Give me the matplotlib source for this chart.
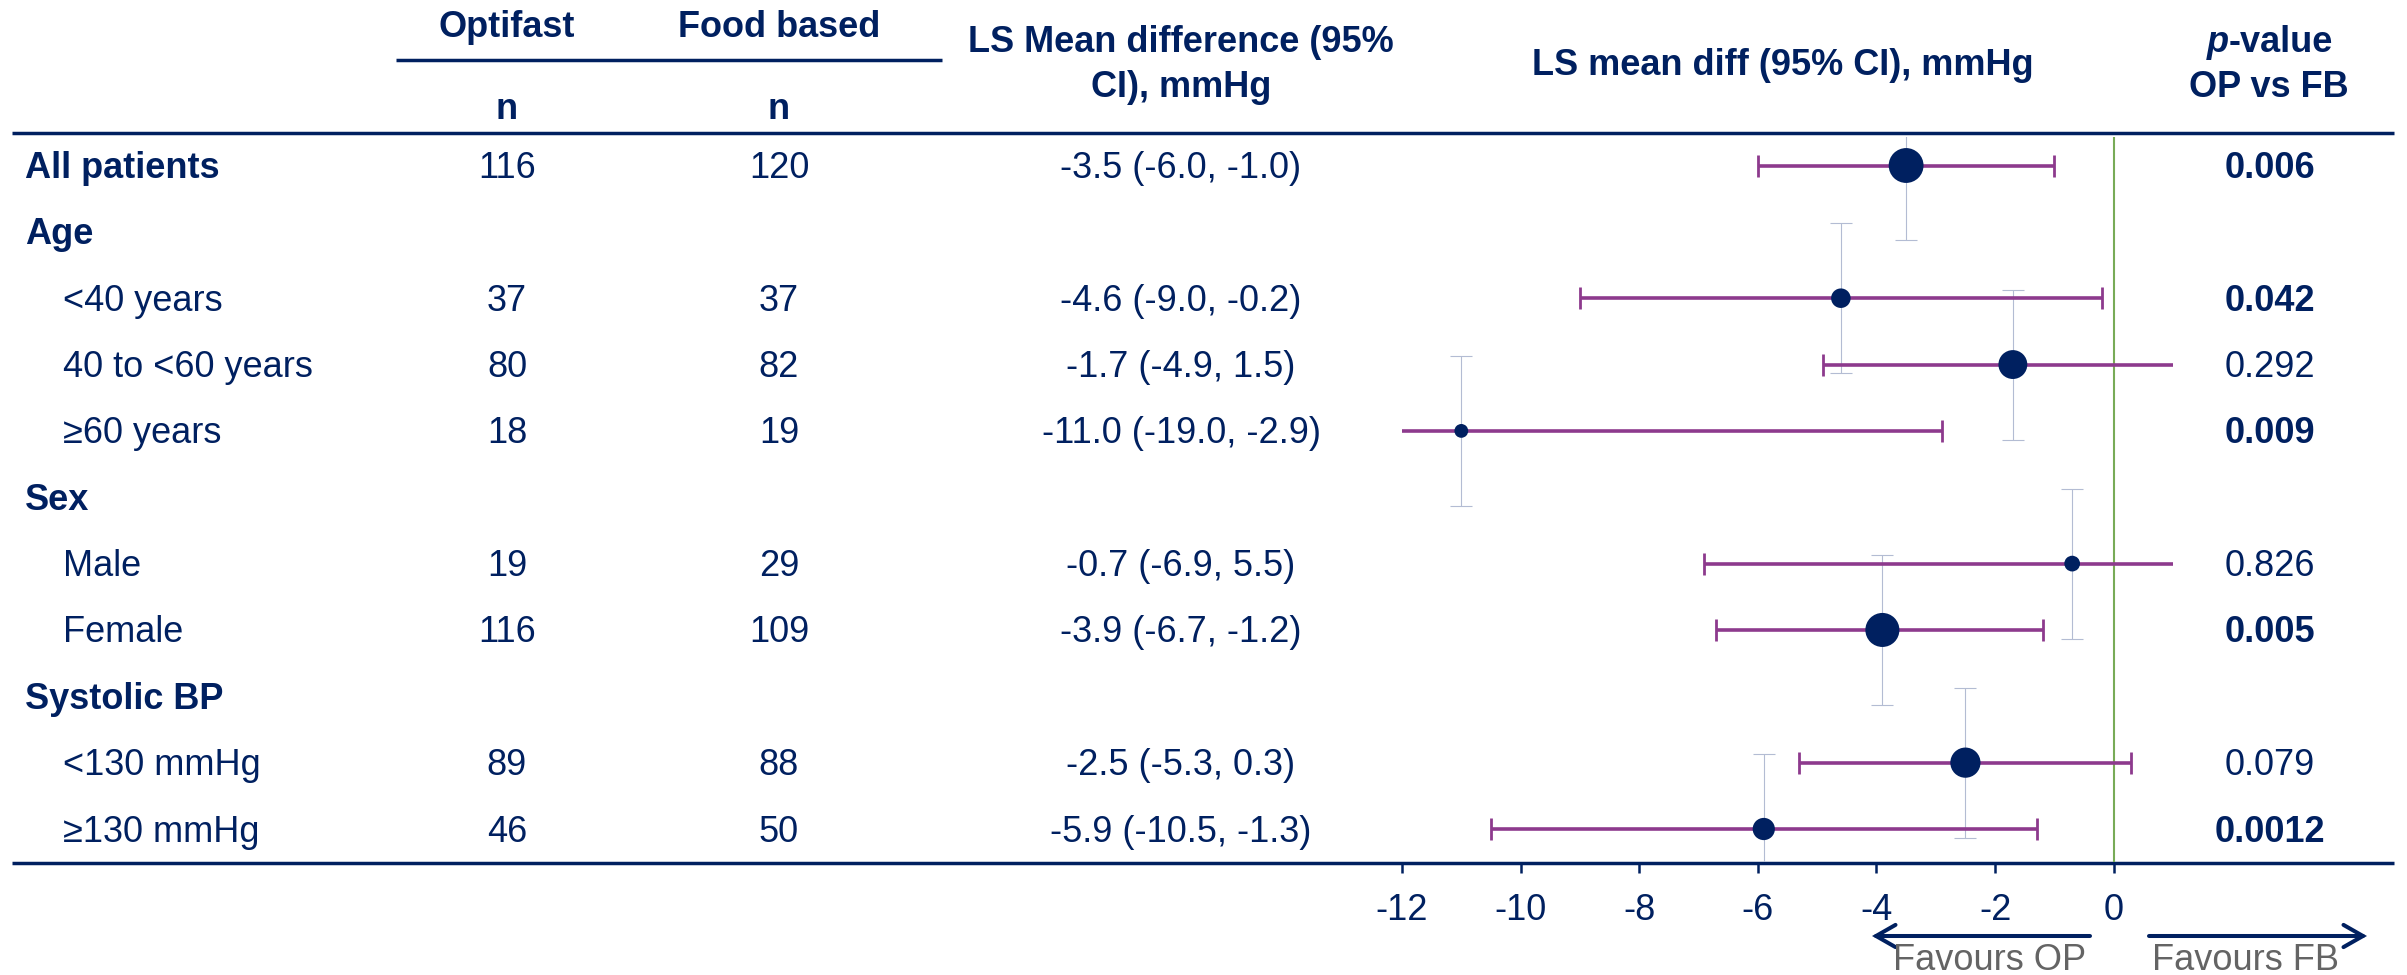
import numpy as np
import matplotlib
matplotlib.use("Agg")
import matplotlib.pyplot as plt
from matplotlib.patches import FancyArrowPatch

# ---- data -------------------------------------------------------------
row_labels = ["All patients", "Age", "<40 years", "40 to <60 years", "≥60 years",
              "Sex", "Male", "Female", "Systolic BP", "<130 mmHg", "≥130 mmHg"]
group_rows = ["All patients", "Age", "Sex", "Systolic BP"]

nan = np.nan
n_optifast = [116, nan, 37, 80, 18, nan, 19, 116, nan, 89, 46]
n_food = [120, nan, 37, 82, 19, nan, 29, 109, nan, 88, 50]
mean_diff = [-3.5, nan, -4.6, -1.7, -11.0, nan, -0.7, -3.9, nan, -2.5, -5.9]
ci_low = [-6.0, nan, -9.0, -4.9, -19.0, nan, -6.9, -6.7, nan, -5.3, -10.5]
ci_high = [-1.0, nan, -0.2, 1.5, -2.9, nan, 5.5, -1.2, nan, 0.3, -1.3]
p_values = ["0.006", "", "0.042", "0.292", "0.009", "", "0.826", "0.005", "",
            "0.079", "0.0012"]

x_ticks = [-12, -10, -8, -6, -4, -2, 0]
x_range = (-12, 1)
row_halo = 1.13          # half-height of the light vertical bars, in rows

# ---- style ------------------------------------------------------------
NAVY = "#002060"
MAGENTA = "#8D3A8D"
LIGHT = "#B3BCD3"
GREEN = "#78AB57"
GREY = "#646464"
FONT = ["Liberation Sans", "DejaVu Sans"]
FS = 26
plt.rcParams["font.family"] = FONT

W, H = 2407, 975
fig = plt.figure(figsize=(W / 100, H / 100), dpi=100)

# page axes in pixel units (y downwards) for the table part
pg = fig.add_axes([0, 0, 1, 1])
pg.set_xlim(0, W)
pg.set_ylim(H, 0)
pg.axis("off")

row0, row_step = 165.5, 66.35        # vertical centre of first row and spacing


def row_y(i):
    return row0 + row_step * i


def txt(x, y, s, ha="center", bold=False, color=NAVY, style="normal"):
    pg.text(x, y, s, ha=ha, va="baseline", fontsize=FS, color=color,
            fontweight="bold" if bold else "normal", fontstyle=style)


# header
txt(507, 37, "Optifast", bold=True)
txt(779, 37, "Food based", bold=True)
txt(507, 119, "n", bold=True)
txt(779, 119, "n", bold=True)
txt(1181, 52, "LS Mean difference (95%", bold=True)
txt(1181, 97, "CI), mmHg", bold=True)
txt(1783, 75, "LS mean diff (95% CI), mmHg", bold=True)
# p-value heading: italic "p" followed by "-value"
txt(2229, 52, "p", ha="right", bold=True, style="italic")
txt(2229, 52, "-value", ha="left", bold=True)
txt(2269, 97, "OP vs FB", bold=True)

pg.plot([396, 942], [60, 60], color=NAVY, lw=2.5, solid_capstyle="butt")
pg.plot([12, 2394], [132.5, 132.5], color=NAVY, lw=2.5, solid_capstyle="butt")
pg.plot([12, 2394], [863, 863], color=NAVY, lw=2.5, solid_capstyle="butt")

# table rows
for i, lab in enumerate(row_labels):
    base = row_y(i) + 12.5
    is_group = lab in group_rows
    txt(25 if is_group else 63, base, lab, ha="left", bold=is_group)
    if not np.isnan(mean_diff[i]):
        txt(507, base, f"{int(n_optifast[i])}")
        txt(779, base, f"{int(n_food[i])}")
        txt(1181, base, f"{mean_diff[i]:.1f} ({ci_low[i]:.1f}, {ci_high[i]:.1f})")
        txt(2270, base, p_values[i], bold=float(p_values[i]) < 0.05)

# ---- forest plot --------------------------------------------------------
x_left, x_right, y_top, y_bot = 1402, 2173, 137, 862
ax = fig.add_axes([x_left / W, 1 - y_bot / H, (x_right - x_left) / W, (y_bot - y_top) / H])
ax.set_xlim(*x_range)
ax.set_ylim((y_bot - row0) / row_step, (y_top - row0) / row_step)
for sp in ax.spines.values():
    sp.set_visible(False)
ax.set_facecolor("none")
ax.set_yticks([])
ax.set_xticks(x_ticks)
ax.set_xticklabels([str(t) for t in x_ticks])
ax.tick_params(axis="x", direction="out", length=8, width=1.8, color=NAVY,
               labelsize=FS, labelcolor=NAVY, pad=14)

idx = np.array([i for i in range(len(row_labels)) if not np.isnan(mean_diff[i])])
m = np.array(mean_diff)[idx]
lo = np.array(ci_low)[idx]
hi = np.array(ci_high)[idx]
ntot = np.array(n_optifast)[idx] + np.array(n_food)[idx]

ax.axvline(0, color=GREEN, lw=1.5, zorder=1)
ax.errorbar(m, idx, yerr=row_halo, fmt="none", ecolor=LIGHT, elinewidth=0.8,
            capsize=8, capthick=0.8, zorder=2)
ax.errorbar(m, idx, xerr=[m - lo, hi - m], fmt="none", ecolor=MAGENTA,
            elinewidth=2.6, capsize=8, capthick=2.0, zorder=3)
# marker area proportional to the total number of patients in the subgroup
ax.scatter(m, idx, s=2.67 * ntot, color=NAVY, linewidths=0, zorder=4)

# ---- direction arrows ---------------------------------------------------
for x0, x1 in [(2090, 1872), (2149, 2367)]:
    pg.add_patch(FancyArrowPatch((x0, 936), (x1, 936),
                                 arrowstyle="->,head_length=14,head_width=8",
                                 mutation_scale=1, lw=2.9, color=NAVY,
                                 shrinkA=0, shrinkB=0, joinstyle="miter"))
txt(1990, 970, "Favours OP", color=GREY)
txt(2246, 970, "Favours FB", color=GREY)

fig.savefig("out.png", dpi=100)
